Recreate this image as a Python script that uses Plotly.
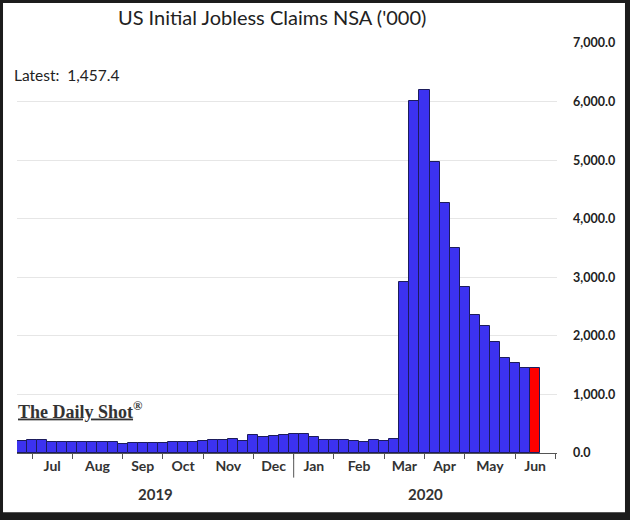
import pandas as pd
import plotly.graph_objects as go

# ---- data (thousands, weekly NSA initial claims) ----
week_start = "2019-06-29"
n_weeks = 52
claims = [206, 223, 223, 194, 189, 183, 183, 183, 189, 189,
          160, 166, 166, 172, 177, 194, 189, 194, 206, 229,
          217, 240, 206, 314, 274, 291, 314, 325, 325, 280,
          223, 223, 223, 212, 194, 223, 200, 246,
          2915, 6010, 6200, 4960, 4265, 3495, 2840, 2360, 2170, 1895,
          1625, 1545, 1450, 1457.4]
month_tick_dates = ["2019-07-06", "2019-08-03", "2019-09-07", "2019-10-05",
                    "2019-11-02", "2019-12-07", "2020-01-04", "2020-02-01",
                    "2020-03-07", "2020-04-04", "2020-05-02", "2020-06-06",
                    "2020-07-04"]
month_labels = ["Jul", "Aug", "Sep", "Oct", "Nov", "Dec",
                "Jan", "Feb", "Mar", "Apr", "May", "Jun"]
year_labels = ["2019", "2020"]
y_ticks = [0, 1000, 2000, 3000, 4000, 5000, 6000, 7000]
latest_text = "Latest:  1,457.4"
title_text = "US Initial Jobless Claims NSA ('000)"

dates = pd.date_range(week_start, periods=n_weeks, freq="7D")
ticks = pd.to_datetime(month_tick_dates)
month_mid = [ticks[i] + (ticks[i + 1] - ticks[i]) / 2 for i in range(len(month_labels))]

x_start = dates[0] - pd.Timedelta(hours=84)
x_end = pd.Timestamp("2020-07-05 05:00")
sep = ticks[6]
year_mid = [x_start + (sep - x_start) / 2, sep + (x_end - sep) / 2]

colors = ["#3c32f0"] * (n_weeks - 1) + ["#ff0000"]

fig = go.Figure()
fig.add_trace(go.Bar(
    x=dates, y=claims, width=7 * 86400000,
    marker=dict(color=colors, line=dict(color="#1c1c5c", width=1)),
    showlegend=False, hoverinfo="x+y",
))

FONT = "Lato"
fig.update_layout(
    width=630, height=520, autosize=False,
    margin=dict(l=17, r=73, t=43, b=67),
    paper_bgcolor="white", plot_bgcolor="white",
    bargap=0,
    title=dict(text=title_text, x=0.432, y=0.965, xanchor="center", yanchor="middle",
               font=dict(family=FONT, size=20, color="#222")),
    xaxis=dict(type="date", range=[x_start, x_end], tickvals=ticks,
               ticks="outside", ticklen=5, tickcolor="#555", showticklabels=False,
               showline=True, linecolor="#555", linewidth=1, showgrid=False,
               zeroline=False),
    xaxis2=dict(type="date", overlaying="x", matches="x", anchor="y", side="bottom",
                tickvals=month_mid, ticktext=month_labels, ticks="",
                showline=False, showgrid=False, zeroline=False,
                ticklabelstandoff=3,
                tickfont=dict(family=FONT, size=14, color="#333", weight="bold")),
    yaxis=dict(range=[0, 7000], side="right", tickvals=y_ticks, tickformat=",.1f",
               showgrid=True, gridcolor="#e6e6e6", gridwidth=1, zeroline=False,
               showline=False, ticks="", ticklabelstandoff=15,
               tickfont=dict(family=FONT, size=12.5, color="#222", weight="bold")),
)

# invisible trace to activate the label axis
fig.add_trace(go.Scatter(x=[dates[0]], y=[0], xaxis="x2", mode="markers",
                         marker=dict(opacity=0), showlegend=False, hoverinfo="skip"))

for lbl, xm in zip(year_labels, year_mid):
    fig.add_annotation(x=xm, xref="x", y=-0.10, yref="paper", text=lbl, showarrow=False,
                       xanchor="center", yanchor="middle",
                       font=dict(family=FONT, size=15, color="#333", weight="bold"))

fig.add_shape(type="line", xref="x", yref="paper", x0=sep, x1=sep, y0=0, y1=-0.06,
              line=dict(color="#555", width=1))

fig.add_annotation(x=-0.01, xref="paper", y=0.921, yref="paper", text=latest_text,
                   showarrow=False, xanchor="left", yanchor="middle",
                   font=dict(family=FONT, size=15.5, color="#222"))

fig.add_annotation(x=-0.002, xref="paper", y=0.104, yref="paper",
                   text="<u>The Daily Shot</u><sup>®</sup>",
                   showarrow=False, xanchor="left", yanchor="middle",
                   font=dict(family="Liberation Serif", size=18, color="#333", weight="bold"))

# dark frame around the picture
frame = "#1c1c1c"
for x0, x1, y0, y1 in [(-0.04, -0.0259, -0.2, 1.2), (1.1259, 1.2, -0.2, 1.2),
                       (-0.04, 1.2, 1.0976, 1.2), (-0.04, 1.2, -0.2, -0.1447)]:
    fig.add_shape(type="rect", xref="paper", yref="paper", x0=x0, x1=x1, y0=y0, y1=y1,
                  fillcolor=frame, line=dict(width=0), layer="above")

fig.write_html("out.html")
